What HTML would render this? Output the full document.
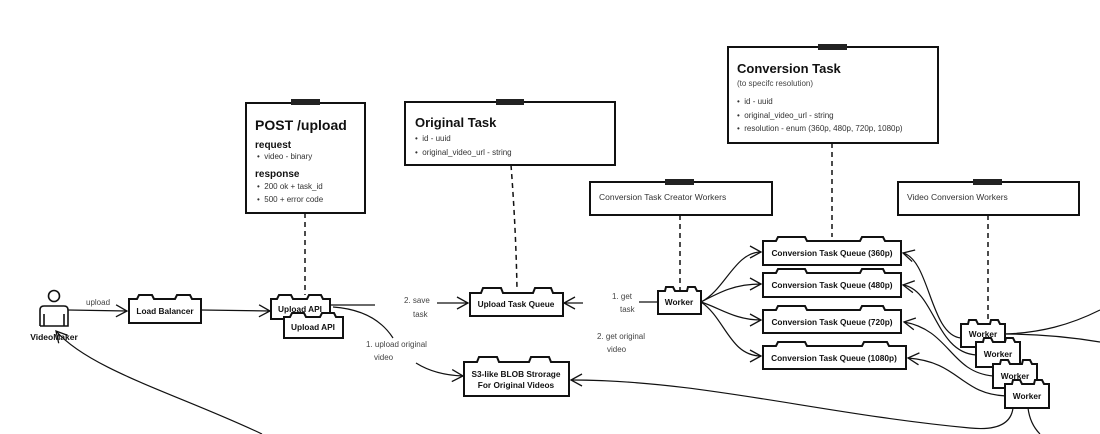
<!DOCTYPE html>
<html><head><meta charset="utf-8"><style>
html,body{margin:0;padding:0;background:#fff;}
svg{display:block;font-family:"Liberation Sans",sans-serif;}
.c{fill:#fff;stroke:#111;stroke-width:2;}
.l{fill:none;stroke:#111;stroke-width:1.2;}
.d{fill:none;stroke:#111;stroke-width:1.5;stroke-dasharray:5,4;}
.s{font-size:8px;fill:#444;}
.b{font-size:8px;fill:#333;}
</style></head><body>
<svg width="1100" height="434" viewBox="0 0 1100 434">
<defs>
<marker id="a" markerWidth="14" markerHeight="14" refX="12" refY="7" orient="auto" markerUnits="userSpaceOnUse">
<path d="M1,1 L12,7 L1,13" fill="none" stroke="#111" stroke-width="1.3"/></marker>
</defs>

<rect class="c" x="246" y="103" width="119" height="110"/>
<rect x="291" y="99" width="29" height="6" fill="#222"/>
<text x="255" y="130" font-size="14" font-weight="bold" fill="#111">POST /upload</text>
<text x="255" y="148" font-size="10" font-weight="bold" fill="#111">request</text>
<text x="257" y="159" class="b">•&#160;&#160;video - binary</text>
<text x="255" y="177" font-size="10" font-weight="bold" fill="#111">response</text>
<text x="257" y="189" class="b">•&#160;&#160;200 ok + task_id</text>
<text x="257" y="202" class="b">•&#160;&#160;500 + error code</text>

<rect class="c" x="405" y="102" width="210" height="63"/>
<rect x="496" y="99" width="28" height="6" fill="#222"/>
<text x="415" y="127" font-size="13" font-weight="bold" fill="#111">Original Task</text>
<text x="415" y="141" class="b">•&#160;&#160;id - uuid</text>
<text x="415" y="155" class="b">•&#160;&#160;original_video_url - string</text>

<rect class="c" x="728" y="47" width="210" height="96"/>
<rect x="818" y="44" width="29" height="6" fill="#222"/>
<text x="737" y="73" font-size="13" font-weight="bold" fill="#111">Conversion Task</text>
<text x="737" y="86" class="s" fill="#555">(to specifc resolution)</text>
<text x="737" y="104" class="b">•&#160;&#160;id - uuid</text>
<text x="737" y="118" class="b">•&#160;&#160;original_video_url - string</text>
<text x="737" y="131" class="b">•&#160;&#160;resolution - enum (360p, 480p, 720p, 1080p)</text>

<rect class="c" x="590" y="182" width="182" height="33"/>
<rect x="665" y="179" width="29" height="6" fill="#222"/>
<text x="599" y="200" font-size="8.5" fill="#333">Conversion Task Creator Workers</text>

<rect class="c" x="898" y="182" width="181" height="33"/>
<rect x="973" y="179" width="29" height="6" fill="#222"/>
<text x="907" y="200" font-size="8.5" fill="#333">Video Conversion Workers</text>

<path class="d" d="M305,213 V295"/>
<path class="d" d="M511,165 Q516,230 517,290"/>
<path class="d" d="M832,143 V237"/>
<path class="d" d="M680,215 V290"/>
<path class="d" d="M988,215 V322"/>

<path class="l" d="M68,310 L127,311" marker-end="url(#a)"/>
<text x="86" y="305" class="s">upload</text>
<path class="l" d="M201,310 L270,311" marker-end="url(#a)"/>
<path class="l" d="M330,305 L375,305"/>
<text x="404" y="303" class="s">2. save</text>
<text x="413" y="317" class="s">task</text>
<path class="l" d="M437,303 L468,303" marker-end="url(#a)"/>
<path class="l" d="M583,303 L564,303" marker-end="url(#a)"/>
<path class="l" d="M333,307 Q375,310 393,338"/>
<text x="366" y="347" class="s">1. upload original</text>
<text x="374" y="360" class="s">video</text>
<path class="l" d="M416,363 Q435,375 463,376" marker-end="url(#a)"/>
<path class="l" d="M1013,408 Q1010,432 970,428 C820,414 700,380 571,380" marker-end="url(#a)"/>
<path class="l" d="M262,434 C180,395 90,370 56,331" marker-end="url(#a)"/>

<text x="612" y="299" class="s">1. get</text>
<text x="620" y="312" class="s">task</text>
<text x="597" y="339" class="s">2. get original</text>
<text x="607" y="352" class="s">video</text>
<path class="l" d="M639,302 L658,302"/>

<path class="l" d="M701,302 C725,290 735,252 761,252" marker-end="url(#a)"/>
<path class="l" d="M701,302 C720,292 735,284 761,284" marker-end="url(#a)"/>
<path class="l" d="M701,302 C720,308 735,320 761,320" marker-end="url(#a)"/>
<path class="l" d="M701,302 C725,318 730,356 761,356" marker-end="url(#a)"/>

<path class="l" d="M961,338 C930,335 930,260 903,253" marker-end="url(#a)"/>
<path class="l" d="M976,355 C935,352 935,290 903,285" marker-end="url(#a)"/>
<path class="l" d="M993,376 C950,372 950,330 904,322" marker-end="url(#a)"/>
<path class="l" d="M1006,396 C960,394 960,362 908,358" marker-end="url(#a)"/>
<path class="l" d="M1004,334 C1040,333 1070,325 1100,310"/>
<path class="l" d="M1004,334 C1040,334 1070,337 1100,342"/>
<path class="l" d="M1028,408 Q1030,424 1040,434"/>

<circle cx="54" cy="296" r="5.5" fill="#fff" stroke="#111" stroke-width="1.6"/>
<path d="M40,326 V310 Q40,306 44,306 H64 Q68,306 68,310 V326 H64 V314 M44,314 V326 H40 M44,326 H64" fill="none" stroke="#111" stroke-width="1.6"/>
<text x="54" y="340" font-size="8.5" font-weight="bold" fill="#111" text-anchor="middle">VideoMaker</text>

<g fill="#fff" stroke="#111" stroke-width="2">
<path d="M129,299 H137 L139,295 H152 L154,299 H175 L177,295 H190 L192,299 H201 V323 H129 Z"/>
<path d="M271,299 H277 L279,295 H291 L293,299 H307 L309,295 H321 L323,299 H330 V319 H271 Z"/>
<path d="M284,317 H290 L292,313 H304 L306,317 H320 L322,313 H334 L336,317 H343 V338 H284 Z"/>
<path d="M470,293 H481 L483,288 H501 L503,293 H533 L535,288 H551 L553,293 H563 V316 H470 Z"/>
<path d="M464,362 H477 L479,357 H497 L499,362 H529 L531,357 H549 L551,362 H569 V396 H464 Z"/>
<path d="M658,291 H665 L666,287 H673 L675,291 H687 L688,287 H695 L697,291 H701 V314 H658 Z"/>
<path d="M763,241 H776 L778,237 H805 L807,241 H860 L862,237 H883 L885,241 H901 V265 H763 Z"/>
<path d="M763,273 H776 L778,269 H805 L807,273 H860 L862,269 H883 L885,273 H901 V297 H763 Z"/>
<path d="M763,310 H776 L778,306 H805 L807,310 H860 L862,306 H883 L885,310 H901 V333 H763 Z"/>
<path d="M763,346 H776 L778,342 H805 L807,346 H862 L864,342 H887 L889,346 H906 V369 H763 Z"/>
</g>
<g font-size="8.3" font-weight="bold" fill="#111" text-anchor="middle">
<text x="165" y="314">Load Balancer</text>
<text x="300" y="312">Upload API</text>
<text x="313" y="330">Upload API</text>
<text x="516" y="307">Upload Task Queue</text>
<text x="516" y="377">S3-like BLOB Strorage</text>
<text x="516" y="388">For Original Videos</text>
<text x="679" y="305">Worker</text>
<text x="832" y="256">Conversion Task Queue (360p)</text>
<text x="832" y="288">Conversion Task Queue (480p)</text>
<text x="832" y="325">Conversion Task Queue (720p)</text>
<text x="834" y="361">Conversion Task Queue (1080p)</text>
</g>
<g font-size="8.3" font-weight="bold" fill="#111" text-anchor="middle">
<path fill="#fff" stroke="#111" stroke-width="2" d="M961,324 H968 L969,320 H976 L978,324 H990 L991,320 H998 L1000,324 H1005 V347 H961 Z"/>
<text x="983" y="337">Worker</text>
<path fill="#fff" stroke="#111" stroke-width="2" d="M976,342 H983 L984,338 H991 L993,342 H1005 L1006,338 H1013 L1015,342 H1020 V367 H976 Z"/>
<text x="998" y="357">Worker</text>
<path fill="#fff" stroke="#111" stroke-width="2" d="M993,364 H1000 L1001,360 H1008 L1010,364 H1022 L1023,360 H1030 L1032,364 H1037 V388 H993 Z"/>
<text x="1015" y="379">Worker</text>
<path fill="#fff" stroke="#111" stroke-width="2" d="M1005,384 H1012 L1013,380 H1020 L1022,384 H1034 L1035,380 H1042 L1044,384 H1049 V408 H1005 Z"/>
<text x="1027" y="399">Worker</text>
</g>
</svg>
</body></html>
